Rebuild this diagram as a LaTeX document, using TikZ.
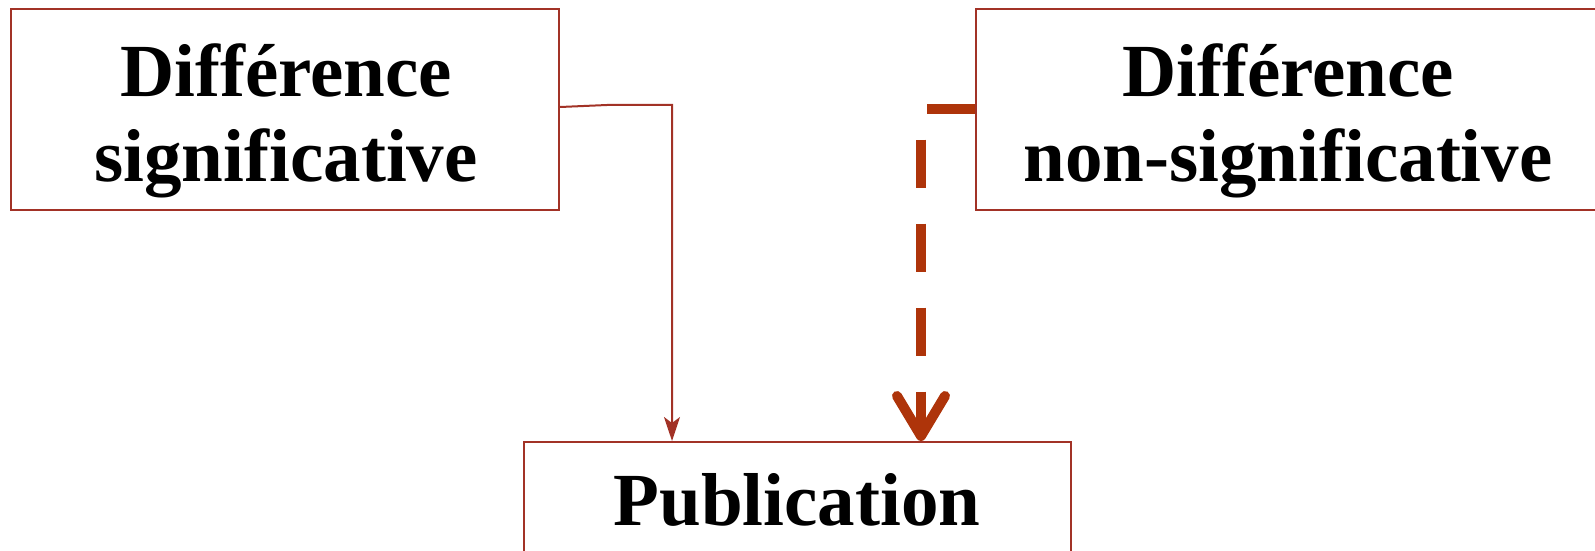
\documentclass[tikz,border=0pt]{standalone}
\usepackage{fontspec}
\setmainfont{Liberation Serif}
\usetikzlibrary{arrows.meta}
\definecolor{boxred}{RGB}{162,50,38}
\definecolor{dashred}{RGB}{174,52,10}
\begin{document}
\begin{tikzpicture}[x=0.5pt,y=-0.5pt,
  boxst/.style={draw=boxred,line width=1.2pt,rectangle,inner sep=0pt},
  txt/.style={font=\bfseries\fontsize{37.5}{42}\selectfont,inner sep=0pt,anchor=base},
  thinarrow/.style={draw=boxred,line width=1pt,-{Stealth[length=12pt,width=8pt,inset=3pt]}},
  dasharrow/.style={draw=dashred,line width=5pt,dash pattern=on 24pt off 18pt,-{Straight Barb[length=20pt,width=24pt,round]}}]
\clip (0,0) rectangle (1595,551);
\node[boxst,minimum width=274pt,minimum height=100.5pt] (b1) at (285,109.5) {};
\node[boxst,minimum width=312pt,minimum height=100.5pt] (b2) at (1288,109.5) {};
\node[boxst,minimum width=273.5pt,minimum height=60pt,anchor=north] (b3) at (797.5,441) {};
\node[txt] (t1a) at (286,96.6) {Différence};
\node[txt] (t1b) at (286,181) {significative};
\node[txt] (t2a) at (1288,96.6) {Différence};
\node[txt] (t2b) at (1288,181) {non-significative};
\node[txt] (t3) at (797,525) {Publication};
\coordinate (k1) at (607,105);
\coordinate (k2) at (672,105);
\coordinate (k3) at (921,109.5);
\draw[thinarrow] ([yshift=1.25pt]b1.east) -- (k1) -- (k2) -- (k2 |- b3.north);
\draw[dasharrow] (b2.west) -- (k3) -- (k3 |- b3.north);
\end{tikzpicture}
\end{document}
